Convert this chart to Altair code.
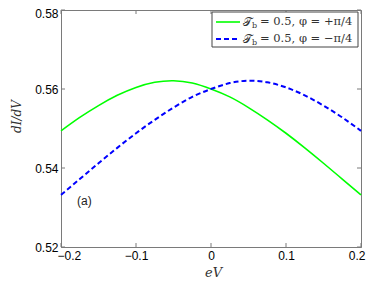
import altair as alt
import pandas as pd

ev = [-0.2, -0.175, -0.15, -0.125, -0.1, -0.075, -0.05, -0.025, 0.0,
      0.025, 0.05, 0.075, 0.1, 0.125, 0.15, 0.175, 0.2]
green = [0.5494, 0.5528, 0.5558, 0.5584, 0.5604, 0.5617, 0.5621, 0.5615, 0.5600,
         0.5580, 0.5553, 0.5522, 0.5488, 0.5451, 0.5412, 0.5372, 0.5332]
blue = [0.5332, 0.5372, 0.5412, 0.5451, 0.5488, 0.5522, 0.5553, 0.5580, 0.5600,
        0.5615, 0.5621, 0.5617, 0.5604, 0.5584, 0.5558, 0.5528, 0.5494]
x_ticks = [-0.2, -0.1, 0.0, 0.1, 0.2]
y_ticks = [0.52, 0.54, 0.56, 0.58]

W, H = 300, 237
xs = alt.Scale(domain=[-0.2, 0.2], nice=False, zero=False)
ys = alt.Scale(domain=[0.52, 0.58], nice=False, zero=False)

df = pd.DataFrame({"ev": ev, "green": green, "blue": blue})
xt = pd.DataFrame({"v": x_ticks})
yt = pd.DataFrame({"v": y_ticks})

gray = "#7a7a7a"
sans = "Liberation Sans"
serif = "DejaVu Serif"

base = alt.Chart(df)
g_line = base.mark_line(color="#00ff00", strokeWidth=1.6, interpolate="natural").encode(
    x=alt.X("ev:Q", scale=xs,
            axis=alt.Axis(values=x_ticks, format="~g", ticks=False, grid=False,
                          domainColor=gray, labelFont=sans, labelFontSize=12,
                          labelColor="black", labelPadding=3, labelFlush=True,
                          labelFlushOffset=4,
                          title="eV", titleFont=serif, titleFontStyle="italic",
                          titleFontWeight="normal", titleFontSize=13,
                          titleColor="#333", titleX=152, titleY=25,
                          titleBaseline="middle", titleAlign="center")),
    y=alt.Y("green:Q", scale=ys,
            axis=alt.Axis(values=y_ticks, format=".2f", ticks=False, grid=False,
                          domainColor=gray, labelFont=sans, labelFontSize=12,
                          labelColor="black", labelPadding=3, labelFlush=False,
                          labelOffset={"condition": {"test": "datum.value > 0.579", "value": 3},
                                       "value": 0},
                          title="dI/dV", titleFont=serif, titleFontStyle="italic",
                          titleFontWeight="normal", titleFontSize=12,
                          titleColor="#333", titleX=-45, titleY=106,
                          titleBaseline="middle", titleAlign="center", titleAngle=270)),
)
b_line = base.mark_line(color="#0000ff", strokeWidth=2, strokeDash=[5, 3],
                        interpolate="natural").encode(
    x=alt.X("ev:Q", scale=xs), y=alt.Y("blue:Q", scale=ys))

tick_len = 4
xt_bot = alt.Chart(xt).mark_rule(color=gray).encode(
    x=alt.X("v:Q", scale=xs), y=alt.value(H), y2=alt.value(H - tick_len))
xt_top = alt.Chart(xt).mark_rule(color=gray).encode(
    x=alt.X("v:Q", scale=xs), y=alt.value(0), y2=alt.value(tick_len))
yt_left = alt.Chart(yt).mark_rule(color=gray).encode(
    y=alt.Y("v:Q", scale=ys), x=alt.value(0), x2=alt.value(tick_len))
yt_right = alt.Chart(yt).mark_rule(color=gray).encode(
    y=alt.Y("v:Q", scale=ys), x=alt.value(W), x2=alt.value(W - tick_len))

one = pd.DataFrame({"a": [0]})
leg_box = alt.Chart(one).mark_rect(fill="white", stroke="#444", strokeWidth=1).encode(
    x=alt.value(151), x2=alt.value(297), y=alt.value(2), y2=alt.value(37))
leg_g = alt.Chart(one).mark_rule(color="#00ff00", strokeWidth=1.6).encode(
    x=alt.value(155), x2=alt.value(179), y=alt.value(12))
leg_b = alt.Chart(one).mark_rule(color="#0000ff", strokeWidth=2, strokeDash=[5, 3]).encode(
    x=alt.value(155), x2=alt.value(179), y=alt.value(29))

def leg_text(txt, x, y, size=12):
    return alt.Chart(one).mark_text(align="left", baseline="middle", font=serif,
                                    fontSize=size, color="#333").encode(
        x=alt.value(x), y=alt.value(y), text=alt.value(txt))

legend_texts = [
    leg_text("𝒯", 182, 12), leg_text("b", 191, 16, 8), leg_text("= 0.5, φ = +π/4", 199, 12, 11.5),
    leg_text("𝒯", 182, 29), leg_text("b", 191, 33, 8), leg_text("= 0.5, φ = −π/4", 199, 29, 11.5),
]

label_a = alt.Chart(one).mark_text(align="left", baseline="middle", font=sans,
                                   fontSize=12, color="#222").encode(
    x=alt.value(16), y=alt.value(191), text=alt.value("(a)"))

chart = alt.layer(g_line, b_line, xt_bot, xt_top, yt_left, yt_right,
                  leg_box, leg_g, leg_b, *legend_texts, label_a).properties(
    width=W, height=H,
    autosize=alt.AutoSizeParams(type="none"),
    padding={"left": 53, "top": 2, "right": 5, "bottom": 33},
).configure_view(stroke=gray, strokeWidth=1)

chart.save("out.html", embed_options={"renderer": "svg", "actions": False})
